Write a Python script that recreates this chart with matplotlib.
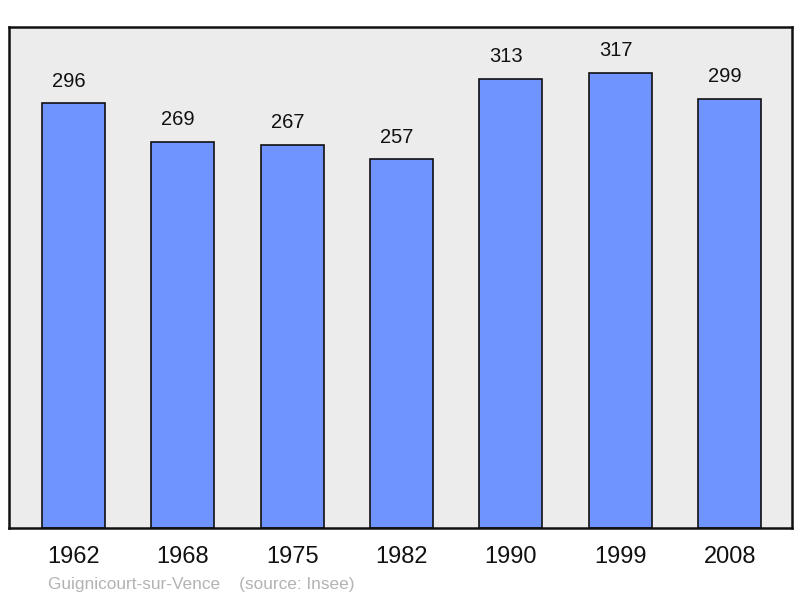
import numpy as np
import matplotlib.pyplot as plt

plt.rcParams['font.family'] = ['Liberation Sans', 'DejaVu Sans']

years = ["1962", "1968", "1975", "1982", "1990", "1999", "2008"]
population = [296, 269, 267, 257, 313, 317, 299]

fig = plt.figure(figsize=(8, 5.98), dpi=100)
ax = fig.add_axes([9 / 800, 1 - 528 / 598, 783 / 800, 501 / 598])
ax.set_facecolor("#ececec")

x = np.arange(len(years))
bars = ax.bar(x, population, width=0.576, color="#7094ff", edgecolor="#111111", linewidth=1.2, zorder=2)

# labels sit a little left of the bar centre in the original
for xi, val in zip(x, population):
    ax.annotate(str(val), (xi, val), xytext=(-3.3, 15.8), textcoords="offset points",
                ha="center", va="center", fontsize=14.5, color="#111111")

ax.set_xlim(-0.59, 6.57)
ax.set_ylim(0, 349)
ax.set_xticks(x)
ax.set_xticklabels(years, fontsize=17, color="#111111")
ax.tick_params(axis="x", length=0, pad=13)
ax.set_yticks([])
for s in ax.spines.values():
    s.set_linewidth(1.8)
    s.set_color("#111111")

fig.text(48 / 800, 1 - 584 / 598, "Guignicourt-sur-Vence    (source: Insee)",
         fontsize=12.4, color="#b3b3b3", va="center", ha="left")

fig.savefig("out.png", dpi=100)
